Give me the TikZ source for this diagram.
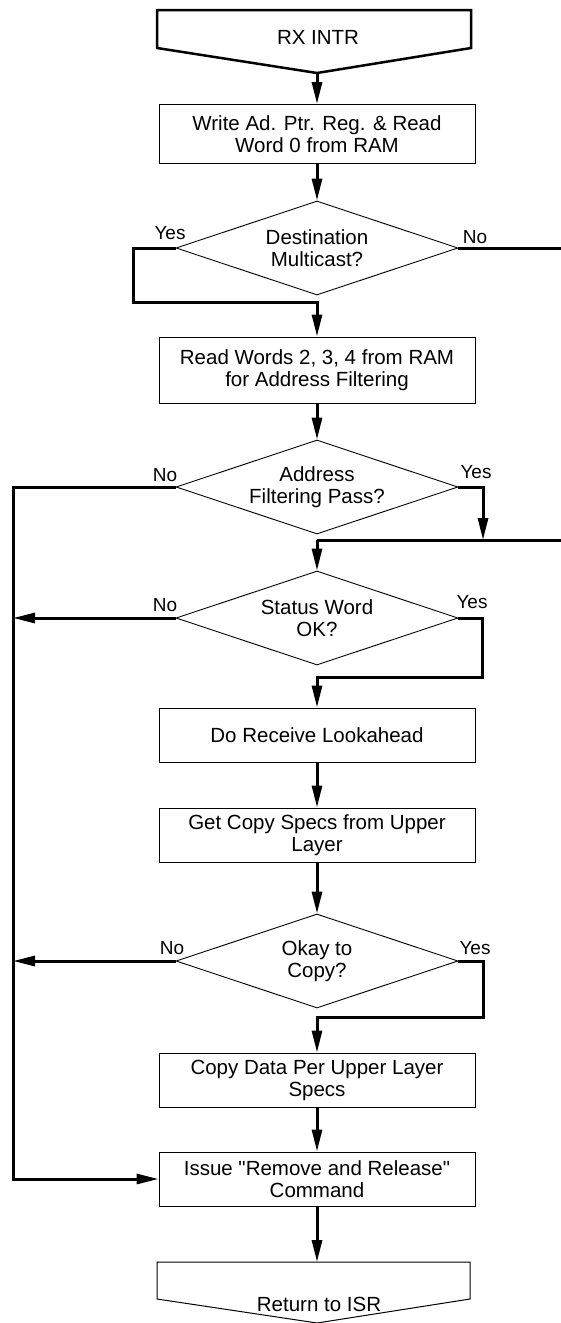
\documentclass[tikz,border=0pt]{standalone}
\usepackage{fontspec}
\setmainfont{Liberation Sans}
\usetikzlibrary{arrows.meta,positioning,shapes.geometric}

\begin{document}
\begin{tikzpicture}[x=1pt,y=-1pt,
  font=\fontsize{20.5}{22}\selectfont,
  proc/.style={draw,line width=1pt,minimum width=316pt,minimum height=54pt,inner sep=0pt,align=center},
  decide/.style={draw,diamond,aspect=3,line width=0.9pt,minimum width=282pt,minimum height=94pt,inner sep=0pt,align=center},
  flow/.style={line width=3pt,-{Triangle[length=22pt,width=10pt]}},
  wire/.style={line width=3pt},
  ans/.style={font=\fontsize{19}{20}\selectfont,inner sep=0pt}]
\useasboundingbox (0,0) rectangle (561,1323);

% Entry shape
\draw[line width=2.5pt] (157,10) -- (471,10) -- (471,48) -- (317,73) -- (157,48) -- cycle;
\node (rx) at (318,37) {RX INTR};
\coordinate (rxtip) at (317,73);

% Steps and decisions
\node[proc,minimum height=59pt] (wr) at (317,134) {Write Ad. Ptr. Reg. \& Read\\Word 0 from RAM};
\node[decide] (dest) at (317,248) {Destination\\Multicast?};
\node[proc,minimum height=66pt] (rd) at (317,370) {Read Words 2, 3, 4 from RAM\\for Address Filtering};
\node[decide] (filt) at (317,487) {Address\\Filtering Pass?};
\node[decide] (stat) at (317,618) {Status Word\\OK?};
\node[proc] (look) at (317,735) {Do Receive Lookahead};
\node[proc] (spec) at (317,835) {Get Copy Specs from Upper\\Layer};
\node[decide] (okay) at (317,961) {Okay to\\Copy?};
\node[proc] (cpy) at (317,1080) {Copy Data Per Upper Layer\\Specs};
\node[proc] (iss) at (317,1179) {Issue \textquotedbl Remove and Release\textquotedbl\\Command};

% Exit shape
\draw[line width=1pt] (157,1262) -- (470,1262) -- (470,1299) -- (317,1323) -- (157,1299) -- cycle;
\node (ret) at (319,1304) {Return to ISR};
\coordinate (rettop) at (317,1262);

% Branch labels
\node[ans] (dy) at (170,233) {Yes};
\node[ans] (dn) at (475,237) {No};
\node[ans] (fn) at (165,475) {No};
\node[ans] (fy) at (476,472) {Yes};
\node[ans] (sn) at (165,605) {No};
\node[ans] (sy) at (472,602) {Yes};
\node[ans] (on) at (172,948) {No};
\node[ans] (oy) at (475,948) {Yes};

% Rails and bends
\coordinate (lft) at (13,0);
\coordinate (rgt) at (561,0);
\coordinate (y1) at (133,302);
\coordinate (y2) at (483,540);
\coordinate (y3) at (482,677);
\coordinate (y4) at (483,1017);

% Connectors
\draw[flow] (rxtip) -- (wr.north);
\draw[flow] (wr.south) -- (dest.north);
\draw[flow] (dest.west) -| (y1) -| (rd.north);
\draw[wire] (dest.east) -- (dest.east -| rgt);
\draw[flow] (rd.south) -- (filt.north);
\draw[flow] (filt.west) -- (filt.west -| lft) |- (iss.west);
\draw[flow] (filt.east) -| (y2);
\draw[wire] (stat.north |- y2) -- (y2 -| rgt);
\draw[flow] (stat.north |- y2) -- (stat.north);
\draw[flow] (stat.west) -- (stat.west -| lft);
\draw[flow] (stat.east) -| (y3) -| (look.north);
\draw[flow] (look.south) -- (spec.north);
\draw[flow] (spec.south) -- (okay.north);
\draw[flow] (okay.west) -- (okay.west -| lft);
\draw[flow] (okay.east) -| (y4) -| (cpy.north);
\draw[flow] (cpy.south) -- (iss.north);
\draw[flow] (iss.south) -- (rettop);
\end{tikzpicture}
\end{document}
